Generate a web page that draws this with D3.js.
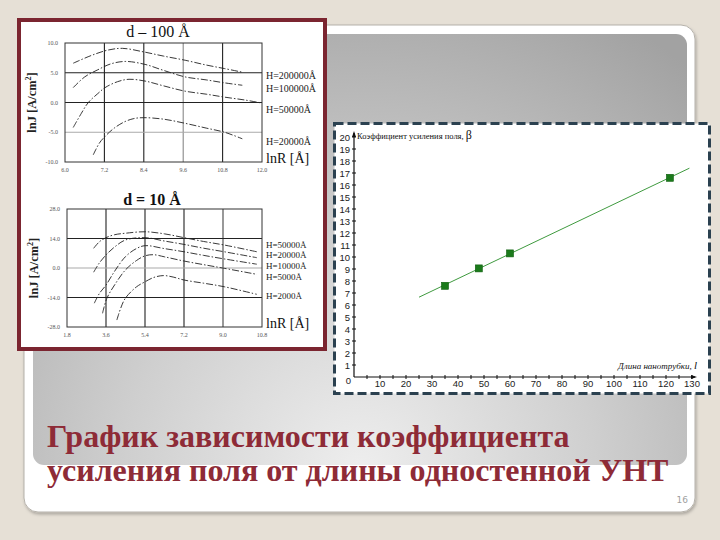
<!DOCTYPE html>
<html><head><meta charset="utf-8">
<script src="https://cdn.jsdelivr.net/npm/d3@7"></script>
<style>html,body{margin:0;padding:0;background:#e6e0d6;}svg{display:block;}</style>
</head><body>
<svg id="c" width="720" height="540"></svg>
<script>
// ---------- DATA ----------
// Right chart: field enhancement factor vs nanotube length
const tubeLength = [35, 48, 60, 121.5];
const betaValues = [7.6, 9.05, 10.3, 16.6];
const fitLength = [25, 129];
const fitBeta = [6.65, 17.4];
const rightXTicks = [10,20,30,40,50,60,70,80,90,100,110,120,130];
const rightYTicks = [1,2,3,4,5,6,7,8,9,10,11,12,13,14,15,16,17,18,19,20];

// Left top chart: d = 100 Å, lnJ vs lnR
const topXTicks = [6.0, 7.2, 8.4, 9.6, 10.8, 12.0];
const topYTicks = [-10, -5, 0, 5, 10];
const topLabels = ["H=200000Å", "H=100000Å", "H=50000Å", "H=20000Å"];
const top_H200000 = [[6.25,6.6],[6.8,7.9],[7.3,8.8],[7.75,9.1],[8.4,8.5],[9.0,7.8],[9.66,7.1],[10.3,6.3],[10.86,5.7],[11.4,5.1]];
const top_H100000 = [[6.25,2.5],[6.6,4.3],[7.0,5.5],[7.4,6.5],[7.85,6.9],[8.44,6.4],[9.0,5.4],[9.66,4.3],[10.3,3.8],[10.86,3.3],[11.4,2.9]];
const top_H50000  = [[6.25,-4.2],[6.5,-1.8],[6.71,0],[7.0,1.5],[7.22,2.5],[7.6,3.5],[7.95,3.9],[8.44,3.6],[9.0,2.8],[9.66,1.9],[10.3,1.4],[10.86,0.9],[11.5,0.4],[12.0,-0.1]];
const top_H20000  = [[6.86,-8.8],[7.05,-6.8],[7.22,-5.7],[7.5,-4.3],[7.83,-3.2],[8.1,-2.7],[8.4,-2.55],[9.0,-2.8],[9.66,-3.5],[10.3,-4.3],[10.86,-5.0],[11.4,-6.1]];
const topLabelY = [4.5, 2.3, -1.1, -6.5];

// Left bottom chart: d = 10 Å
const botXTicks = [1.8, 3.6, 5.4, 7.2, 9.0, 10.8];
const botYTicks = [-28, -14, 0, 14, 28];
const botLabels = ["H=50000Å", "H=20000Å", "H=10000Å", "H=5000Å", "H=2000Å"];
const bot_H50000 = [[3.03,9.35],[3.3,12.5],[3.6,14.4],[4.0,15.8],[4.5,16.5],[5.4,17.2],[6.3,16.2],[7.2,14.4],[8.1,12.6],[9.06,10.9],[10.56,7.7]];
const bot_H20000 = [[3.03,-2.0],[3.3,2.5],[3.6,6.2],[4.0,10.0],[4.5,13.3],[5.4,14.4],[6.3,12.8],[7.2,11.2],[8.1,9.4],[9.06,7.7],[10.56,4.9]];
const bot_H10000 = [[3.06,-16.7],[3.3,-12.0],[3.6,-8.1],[4.0,-1.5],[4.5,5.4],[5.0,9.2],[5.41,10.6],[6.3,9.2],[7.2,7.7],[8.1,6.0],[9.06,4.3],[10.56,1.8]];
const bot_H5000  = [[3.44,-21.5],[3.64,-14.4],[4.0,-8.0],[4.49,-1.0],[5.0,3.5],[5.41,5.8],[5.8,6.3],[6.3,5.3],[7.2,3.3],[8.1,1.6],[9.06,-0.15],[10.56,-3.0]];
const bot_H2000  = [[4.1,-24.7],[4.3,-18.5],[4.49,-14.4],[5.0,-9.0],[5.41,-6.5],[5.8,-4.5],[6.25,-3.6],[6.7,-4.3],[7.2,-5.7],[8.1,-7.2],[9.06,-8.9],[10.56,-12.5]];
const botLabelY = [11.3, 6.2, 1.1, -4.2, -13.2];

const titleLines = ["График зависимости коэффициента", "усиления поля от длины одностенной УНТ"];
const pageNumber = "16";

// ---------- DRAW ----------
const svg = d3.select("#c");
const defs = svg.append("defs");
const rg = defs.append("radialGradient").attr("id","gpanel")
  .attr("gradientUnits","userSpaceOnUse").attr("cx",360).attr("cy",470).attr("r",520)
  .attr("fx",360).attr("fy",470);
rg.append("stop").attr("offset","0").attr("stop-color","#eeeeee");
rg.append("stop").attr("offset","0.45").attr("stop-color","#cfcfcf");
rg.append("stop").attr("offset","1").attr("stop-color","#a2a2a2");
const sh = defs.append("filter").attr("id","sh").attr("x","-5%").attr("y","-5%").attr("width","110%").attr("height","110%");
sh.append("feDropShadow").attr("dx",1).attr("dy",2).attr("stdDeviation",1.5).attr("flood-color","#000").attr("flood-opacity",0.25);

svg.append("rect").attr("width",720).attr("height",540).attr("fill","#e6e0d6");
svg.append("rect").attr("x",24).attr("y",25).attr("width",671).attr("height",487).attr("rx",14)
  .attr("fill","#ffffff").attr("stroke","#b5b1aa").attr("stroke-width",1).attr("filter","url(#sh)");
svg.append("rect").attr("x",33).attr("y",34).attr("width",654).attr("height",431).attr("rx",11)
  .attr("fill","url(#gpanel)");

// ---------- Left panel ----------
svg.append("rect").attr("x",19).attr("y",20).attr("width",306).attr("height",329)
  .attr("fill","#ffffff").attr("stroke","#7b2530").attr("stroke-width",4);

function smallChart(cfg){
  const x = d3.scaleLinear().domain(cfg.xd).range([cfg.left, cfg.right]);
  const y = d3.scaleLinear().domain(cfg.yd).range([cfg.bottom, cfg.top]);
  const g = svg.append("g");
  g.selectAll(".vg").data(cfg.xt.slice(1,-1)).join("line")
    .attr("x1",d=>x(d)).attr("x2",d=>x(d)).attr("y1",cfg.top).attr("y2",cfg.bottom)
    .attr("stroke",(d,i)=>cfg.vgc[i]).attr("stroke-width",1.1);
  g.selectAll(".hg").data(cfg.yt.slice(1,-1)).join("line")
    .attr("x1",cfg.left).attr("x2",cfg.right).attr("y1",d=>y(d)).attr("y2",d=>y(d))
    .attr("stroke",(d,i)=>cfg.hgc[i]).attr("stroke-width",1.1);
  g.append("rect").attr("x",cfg.left).attr("y",cfg.top).attr("width",cfg.right-cfg.left).attr("height",cfg.bottom-cfg.top)
    .attr("fill","none").attr("stroke","#333").attr("stroke-width",1);
  g.selectAll(".xt").data(cfg.xt).join("text")
    .attr("x",d=>x(d)).attr("y",cfg.bottom+10).attr("text-anchor","middle")
    .attr("font-family","Liberation Serif").attr("font-size",6).attr("fill","#555").text(d=>d.toFixed(1));
  g.selectAll(".yt").data(cfg.yt).join("text")
    .attr("x",cfg.left-7).attr("y",d=>y(d)+2).attr("text-anchor","end")
    .attr("font-family","Liberation Serif").attr("font-size",6).attr("fill","#555").text(d=>d.toFixed(1));
  const line = d3.line().x(d=>x(d[0])).y(d=>y(d[1])).curve(d3.curveCatmullRom);
  cfg.series.forEach(s=>{
    g.append("path").attr("d",line(s)).attr("fill","none").attr("stroke","#222")
      .attr("stroke-width",0.9).attr("stroke-dasharray","7,2,1.5,2");
  });
  g.selectAll(".lab").data(cfg.labels).join("text")
    .attr("x",cfg.right+4).attr("y",(d,i)=>y(cfg.labelY[i])+3.5)
    .attr("font-family","Liberation Serif").attr("font-size",cfg.labFs).attr("fill","#222")
    .text(d=>d);
  g.append("text").attr("x",cfg.right+4).attr("y",cfg.bottom+1)
    .attr("font-family","Liberation Serif").attr("font-size",14).attr("fill","#111").text("lnR [Å]");
  const yl = g.append("text").attr("transform",`translate(${cfg.left-29},${(cfg.top+cfg.bottom)/2}) rotate(-90)`)
    .attr("text-anchor","middle").attr("font-family","Liberation Serif").attr("font-weight","bold")
    .attr("font-size",12.5).attr("fill","#222");
  yl.append("tspan").text("lnJ [A/cm");
  yl.append("tspan").attr("font-size",8).attr("dy",-5).text("2");
  yl.append("tspan").attr("dy",5).text("]");
  g.append("text").attr("x",cfg.titleX).attr("y",cfg.titleY).attr("text-anchor","middle")
    .attr("font-family","Liberation Serif").attr("font-size",16).attr("font-weight",cfg.titleW).attr("fill","#111").text(cfg.title);
}

smallChart({xd:[6,12], yd:[-10,10], left:65, right:262, top:43, bottom:162,
  xt:topXTicks, yt:topYTicks, vgc:["#222","#222","#888","#222"], hgc:["#aaa","#222","#222"],
  series:[top_H200000, top_H100000, top_H50000, top_H20000], labels:topLabels, labelY:topLabelY, labFs:10,
  title:"d – 100 Å", titleX:158, titleY:37, titleW:"normal"});
smallChart({xd:[1.8,10.8], yd:[-28,28], left:67, right:262, top:209, bottom:327,
  xt:botXTicks, yt:botYTicks, vgc:["#222","#222","#222","#444"], hgc:["#222","#aaa","#222"],
  series:[bot_H50000, bot_H20000, bot_H10000, bot_H5000, bot_H2000], labels:botLabels, labelY:botLabelY, labFs:9,
  title:"d = 10 Å", titleX:152, titleY:205, titleW:"bold"});

// ---------- Right chart ----------
svg.append("rect").attr("x",334.5).attr("y",123.5).attr("width",375).attr("height",270)
  .attr("fill","#ffffff").attr("stroke","#2b4150").attr("stroke-width",3).attr("stroke-dasharray","9,4");

const rx = d3.scaleLinear().domain([0,130]).range([354,692]);
const ry = d3.scaleLinear().domain([0,20]).range([377,137]);
const rg2 = svg.append("g");
rg2.append("line").attr("x1",rx(0)).attr("x2",695).attr("y1",ry(0)).attr("y2",ry(0)).attr("stroke","#111").attr("stroke-width",1.2);
rg2.append("line").attr("x1",rx(0)).attr("x2",rx(0)).attr("y1",ry(0)).attr("y2",133).attr("stroke","#111").attr("stroke-width",1.2);
rg2.append("path").attr("d",`M${rx(0)-2},137 L${rx(0)},131 L${rx(0)+2},137Z`).attr("fill","#111");
rg2.append("path").attr("d",`M691,${ry(0)-2} L697,${ry(0)} L691,${ry(0)+2}Z`).attr("fill","#111");
const xMinor = d3.range(5,131,5);
rg2.selectAll(".xm").data(xMinor).join("line")
  .attr("x1",d=>rx(d)).attr("x2",d=>rx(d)).attr("y1",ry(0)-2).attr("y2",ry(0)+2).attr("stroke","#111");
rg2.selectAll(".ym").data(rightYTicks).join("line")
  .attr("x1",rx(0)-2).attr("x2",rx(0)+2).attr("y1",d=>ry(d)).attr("y2",d=>ry(d)).attr("stroke","#111");
rg2.selectAll(".xl").data(rightXTicks).join("text")
  .attr("x",d=>rx(d)).attr("y",ry(0)+10).attr("text-anchor","middle")
  .attr("font-family","Liberation Sans").attr("font-size",9.5).attr("fill","#222").text(d=>d);
rg2.selectAll(".yl").data(rightYTicks).join("text")
  .attr("x",350).attr("y",d=>ry(d)+3.5).attr("text-anchor","end")
  .attr("font-family","Liberation Sans").attr("font-size",9.5).attr("fill","#222").text(d=>d);
rg2.append("text").attr("x",351).attr("y",ry(0)+7).attr("text-anchor","end")
  .attr("font-family","Liberation Sans").attr("font-size",9.5).attr("fill","#222").text("0");
const yt = rg2.append("text").attr("x",357).attr("y",139).attr("font-family","Liberation Serif")
  .attr("font-size",8.5).attr("fill","#111");
yt.append("tspan").text("Коэффициент усиления поля, ");
yt.append("tspan").attr("font-size",12).text("β");
const xt = rg2.append("text").attr("x",697).attr("y",369).attr("text-anchor","end").attr("font-family","Liberation Serif")
  .attr("font-style","italic").attr("font-size",9).attr("fill","#111");
xt.append("tspan").text("Длина нанотрубки, ");
xt.append("tspan").attr("font-size",11).text("l");

const fitData = fitLength.map((v,i)=>[v, fitBeta[i]]);
rg2.append("path").attr("d",d3.line().x(d=>rx(d[0])).y(d=>ry(d[1]))(fitData))
  .attr("fill","none").attr("stroke","#3f9a3f").attr("stroke-width",1);
rg2.selectAll(".pt").data(tubeLength.map((v,i)=>[v,betaValues[i]])).join("rect")
  .attr("x",d=>rx(d[0])-3.5).attr("y",d=>ry(d[1])-3.5).attr("width",7).attr("height",7)
  .attr("fill","#1b7a1b").attr("stroke","#0e5e0e").attr("stroke-width",0.6);

// ---------- Title ----------
svg.selectAll(".tt").data(titleLines).join("text")
  .attr("x",47).attr("y",(d,i)=>447+i*34)
  .attr("font-family","Liberation Serif").attr("font-weight","bold").attr("font-size",32)
  .attr("fill","#8e2b37").text(d=>d);
svg.append("text").attr("x",688).attr("y",503).attr("text-anchor","end")
  .attr("font-family","DejaVu Sans").attr("font-size",9).attr("fill","#a0a0a0").text(pageNumber);
</script>
</body></html>
